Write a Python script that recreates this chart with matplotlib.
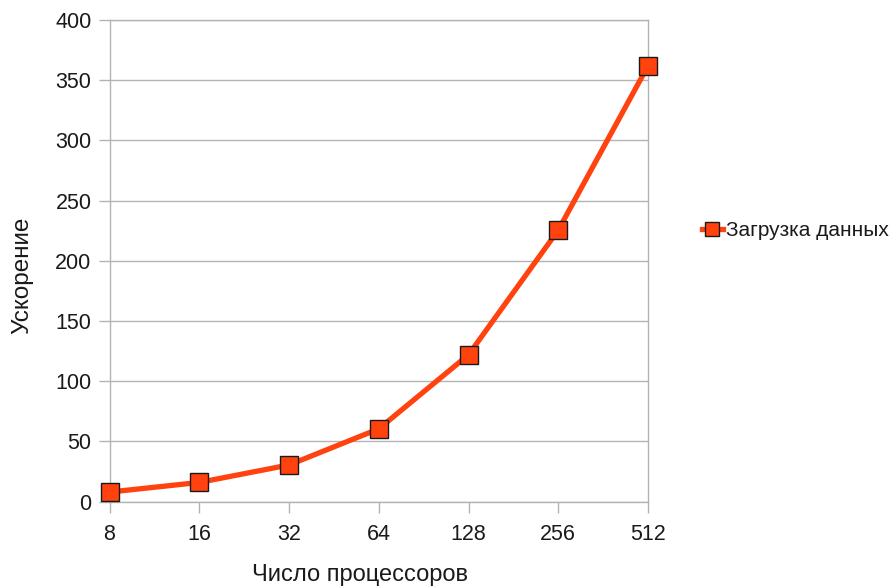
import matplotlib
matplotlib.use("Agg")
import matplotlib.pyplot as plt
from matplotlib.lines import Line2D

categories = ["8", "16", "32", "64", "128", "256", "512"]
speedup = [8, 16, 30.5, 60.5, 122, 225.5, 362]
series_name = "Загрузка данных"
x_label = "Число процессоров"
y_label = "Ускорение"
y_ticks = [0, 50, 100, 150, 200, 250, 300, 350, 400]

plt.rcParams['font.family'] = ['Liberation Sans', 'DejaVu Sans']

fig = plt.figure(figsize=(8.9, 5.86), dpi=100)
ax = fig.add_axes([109.5/890, (586-501.7)/586, (648-109.5)/890, (501.7-20)/586])

grid_c = "#b3b3b3"
color = "#ff420e"
text_c = "#1a1a1a"
x = list(range(len(categories)))
ax.plot(x, speedup, color=color, linewidth=3.8, marker="s", markersize=13,
        markerfacecolor=color, markeredgecolor="#1a1a1a", markeredgewidth=1.0,
        zorder=5, clip_on=False)

ax.set_xlim(0, len(categories) - 1)
ax.set_ylim(0, 400)
ax.set_yticks(y_ticks)
ax.set_xticks(x)
ax.set_xticklabels(categories)
ax.yaxis.grid(True, color=grid_c, linewidth=1.0)
ax.set_axisbelow(True)
for s in ax.spines.values():
    s.set_color(grid_c)
    s.set_linewidth(1.0)
ax.tick_params(axis="both", colors=grid_c, length=8, width=1.0, labelsize=15.5,
               labelcolor=text_c)
ax.tick_params(axis="y", pad=5)
ax.tick_params(axis="x", pad=8)
ax.set_xlabel(x_label, fontsize=17, color=text_c, labelpad=17)
ax.set_ylabel(y_label, fontsize=17.5, color=text_c, labelpad=16)
ax.xaxis.set_label_coords((360 - 109.5) / 538.5, -(575 - 501.7) / 481.7)
ax.xaxis.label.set_va("center")
ax.yaxis.set_label_coords(-(109.5 - 22) / 538.5, (501.7 - 275) / 481.7)
ax.yaxis.label.set_va("center")

handle = Line2D([0], [0], color=color, linewidth=3.8, marker="s", markersize=10,
                markerfacecolor=color, markeredgecolor="#1a1a1a", markeredgewidth=1.0)
fig.legend([handle], [series_name], loc="center left",
           bbox_to_anchor=(702/890, 1 - 231/586), frameon=False, fontsize=15,
           handlelength=1.0, handletextpad=0.15, borderaxespad=0, borderpad=0,
           labelcolor=text_c)

fig.savefig("out.png", dpi=100)
